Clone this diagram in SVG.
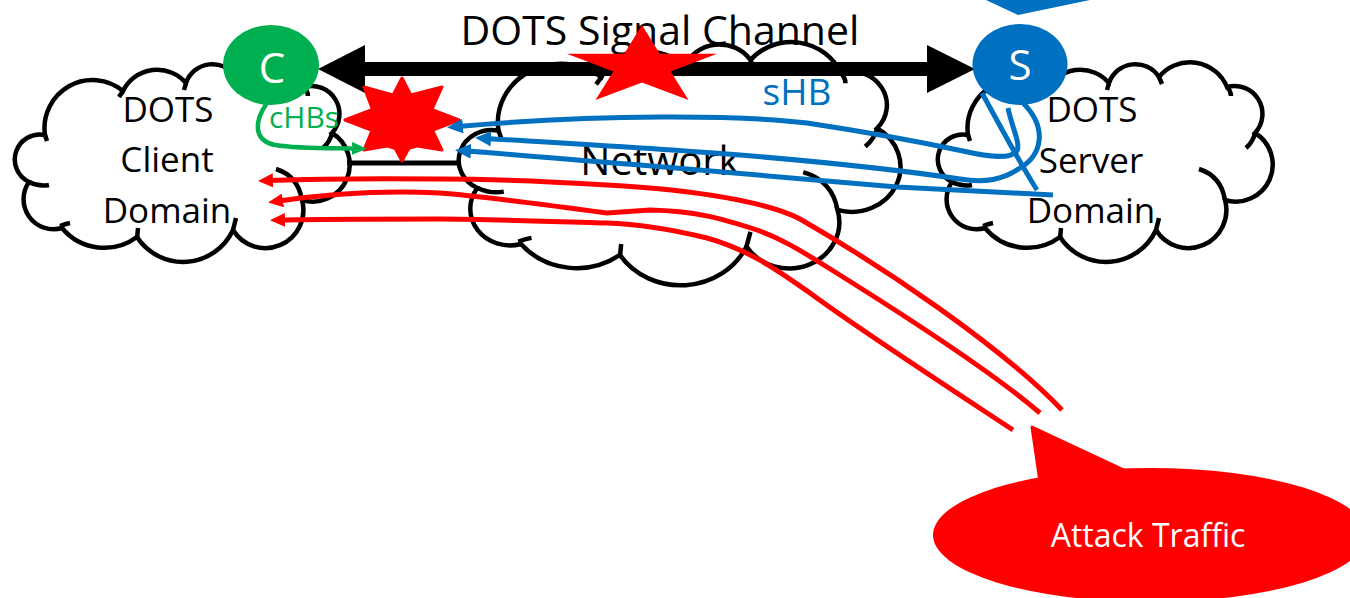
<svg xmlns="http://www.w3.org/2000/svg" width="1350" height="598" viewBox="0 0 1350 598">
  <style>
    .cloud-fill { fill: #FFFFFF; stroke: none; }
    .cloud-line { fill: none; stroke: #000000; stroke-width: 4.5; stroke-linecap: butt; }
    .label { font-family: "Open Sans", "Liberation Sans", sans-serif; fill: #000000; text-anchor: middle; }
    .node-letter { font-family: "Open Sans", "Liberation Sans", sans-serif; fill: #FFFFFF; text-anchor: middle; font-size: 42px; }
    .red-flow { fill: none; stroke: #FF0000; stroke-width: 5; marker-end: url(#ah-red); }
    .blue-flow { fill: none; stroke: #0070C0; stroke-width: 5; }
    .blue-arrow { marker-end: url(#ah-blue); }
  </style>
  <defs>
    <!-- one cloud outline in its own 335 x 202 box; strokes keep their width when the box is scaled -->
    <path id="cloud-outline" vector-effect="non-scaling-stroke" d="M33,72 A48,48 0 0 1 111,28 A38,38 0 0 1 174,20 A28,28 0 0 1 224,14 A40,40 0 0 1 292,24 A28,28 0 0 1 320,70 A37,37 0 0 1 290,137 A38,38 0 0 1 221,167 A55,55 0 0 1 125,174 A55,55 0 0 1 50,165 A30,30 0 0 1 17,119 A25,25 0 0 1 33,72 Z"/>
    <path id="cloud-ticks" vector-effect="non-scaling-stroke" d="M17,119 Q27,124 37,122 M48,163 Q53,161 58,160 M125,176 L126,165 M221,167 L224,155 M290,137 Q286,113 264,106 M320,70 Q318,79 311,85 M292,24 Q296,28 296,33 M224,14 L227,21 M174,20 L172,27 M111,28 L107,34 M33,72 L35,78"/>
    <marker id="ah-blue" viewBox="0 0 16 15" refX="5" refY="7.5" markerWidth="16" markerHeight="15" markerUnits="userSpaceOnUse" orient="auto">
      <path d="M0,0 L16,7.5 L0,15 Z" fill="#0070C0"/>
    </marker>
    <marker id="ah-red" viewBox="0 0 15 14" refX="4" refY="7" markerWidth="15" markerHeight="14" markerUnits="userSpaceOnUse" orient="auto">
      <path d="M0,0 L15,7 L0,14 Z" fill="#FF0000"/>
    </marker>
    <marker id="ah-green" viewBox="0 0 15 13" refX="4" refY="6.5" markerWidth="15" markerHeight="13" markerUnits="userSpaceOnUse" orient="auto">
      <path d="M0,0 L15,6.5 L0,13 Z" fill="#00B050"/>
    </marker>
  </defs>

  <!-- callout tail entering from above -->
  <polygon id="top-callout-tail" points="986,0 1018,15 1090,0" fill="#0070C0"/>

  <!-- client domain cloud -->
  <g id="cloud-client" transform="translate(12,63)">
    <use href="#cloud-outline" class="cloud-fill"/>
    <use href="#cloud-outline" class="cloud-line"/>
    <use href="#cloud-ticks" class="cloud-line"/>
  </g>
  <g id="cloud-client-label" class="label" font-size="35">
    <text x="168" y="122">DOTS</text>
    <text x="167" y="172">Client</text>
    <text x="167" y="223">Domain</text>
  </g>

  <!-- network cloud -->
  <g id="cloud-network" transform="translate(455,43) scale(1.319,1.218)">
    <use href="#cloud-outline" class="cloud-fill"/>
    <use href="#cloud-outline" class="cloud-line"/>
    <use href="#cloud-ticks" class="cloud-line"/>
  </g>
  <text id="cloud-network-label" class="label" x="660" y="175" font-size="40">Network</text>

  <!-- server domain cloud -->
  <g id="cloud-server" transform="translate(935,63)">
    <use href="#cloud-outline" class="cloud-fill"/>
    <use href="#cloud-outline" class="cloud-line"/>
    <use href="#cloud-ticks" class="cloud-line"/>
  </g>
  <g id="cloud-server-label" class="label" font-size="35">
    <text x="1092" y="122">DOTS</text>
    <text x="1091" y="173">Server</text>
    <text x="1091" y="223">Domain</text>
  </g>

  <!-- signal channel and domain link -->
  <g id="channel">
    <line x1="347" y1="163" x2="457" y2="163" stroke="#000000" stroke-width="5"/>
    <polygon points="318,69 365,45 365,62 927,62 927,45 975,69 927,93 927,76 365,76 365,93" fill="#000000"/>
    <text class="label" x="660" y="45" font-size="41">DOTS Signal Channel</text>
    <polygon id="star" points="642,25 659.8,53.7 717.1,53.7 670.7,71.4 688.5,100.1 642,82.4 595.5,100.1 613.3,71.4 566.9,53.7 624.2,53.7" fill="#FF0000"/>
  </g>

  <!-- DOTS client -->
  <g id="node-c">
    <ellipse cx="271" cy="65" rx="48" ry="40" fill="#00B050"/>
    <text class="node-letter" x="272" y="83">C</text>
  </g>

  <!-- DOTS server -->
  <g id="node-s">
    <ellipse cx="1020" cy="64.5" rx="47.5" ry="40.5" fill="#0070C0"/>
    <text class="node-letter" x="1020" y="80">S</text>
  </g>

  <!-- burst where the heartbeats meet -->
  <g id="burst" transform="translate(402,120)" fill="#FF0000" stroke="#FF0000" stroke-width="3" stroke-linejoin="round">
    <ellipse cx="0" cy="2" rx="31" ry="27"/>
    <polygon points="0,-42 -13,-17 13,-17"/>
    <polygon points="0,41 -13,17 13,17"/>
    <polygon points="-57,0 -23,-13 -23,13"/>
    <polygon points="57,0 23,-13 23,13"/>
    <polygon points="40,-33 27,-4 9,-25"/>
    <polygon points="-38,-33 -27,-4 -9,-25"/>
    <polygon points="40,30 9,25 27,3"/>
    <polygon points="-38,30 -9,25 -27,3"/>
  </g>

  <!-- traffic and heartbeat connectors -->
  <g id="connectors">
    <path class="red-flow" d="M1062,410 C1000,345 880,265 800,219 C770,203 700,190 607,185 C540,181 480,179 440,179 C360,178 310,179 269,180.5"/>
    <path class="red-flow" d="M1040,413 C990,370 880,300 827,267 C800,250 780,238 757,230 C720,218 695,211 650,210 L607,213 C540,204 480,196 440,193 C380,190 320,195 279,201"/>
    <path class="red-flow" d="M1013,430 C960,395 860,330 810,293 C780,272 750,250 707,238 C670,229 640,224 607,223 C540,221 480,219 440,219 C380,219 320,219 281,220"/>

    <path class="blue-flow" stroke-width="3" d="M982,93 C998,122 1018,160 1037,190"/>
    <path class="blue-flow blue-arrow" d="M1008,108 C1012,128 1022,146 1016,152 C1008,160 985,156 963,151 C930,144 880,134 807,123 C740,115 600,114 458,126.5"/>
    <path class="blue-flow blue-arrow" d="M1023,103 C1048,128 1042,155 1020,168 C1003,180 985,183 960,179 C900,170 800,160 740,155 C650,148 560,143 486,138.5"/>
    <path class="blue-flow blue-arrow" d="M1053,195 C1000,192 950,190 897,187 C820,181 740,173 640,165 C570,160 510,154 466,151"/>

    <path fill="none" stroke="#00B050" stroke-width="4.5" marker-end="url(#ah-green)" d="M267,103 C255,120 252,140 275,145 C300,149 330,148 356,148.5"/>
  </g>

  <text id="label-chbs" x="304" y="128" font-family="Open Sans, Liberation Sans, sans-serif" font-size="30" fill="#00B050" text-anchor="middle">cHBs</text>
  <text id="label-shb" x="797" y="105" font-family="Open Sans, Liberation Sans, sans-serif" font-size="37" fill="#0070C0" text-anchor="middle">sHB</text>

  <!-- attack traffic callout -->
  <g id="attack-traffic">
    <polygon points="1040,482 1032,427 1124,470" fill="#FF0000" stroke="#FF0000" stroke-width="3" stroke-linejoin="round"/>
    <ellipse cx="1150" cy="535" rx="217" ry="67" fill="#FF0000"/>
    <text x="1148" y="547" font-family="Open Sans, Liberation Sans, sans-serif" font-size="32" fill="#FFFFFF" text-anchor="middle">Attack Traffic</text>
  </g>
</svg>
